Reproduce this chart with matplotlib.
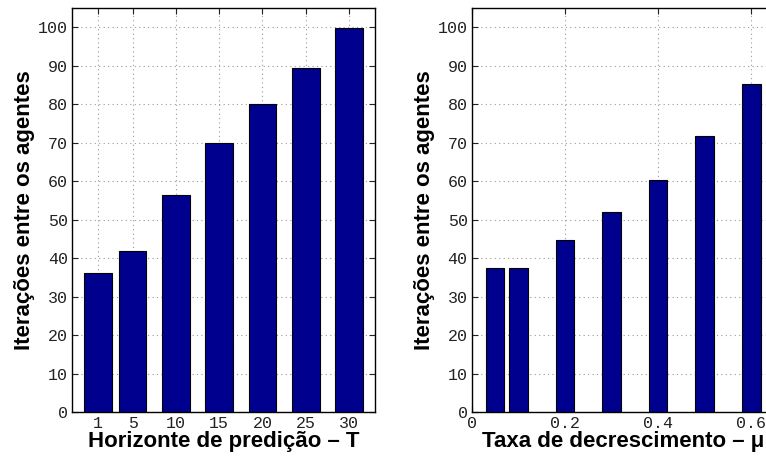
import matplotlib
matplotlib.use("Agg")
import matplotlib.pyplot as plt

# Prediction horizon experiment
horizon = [1, 5, 10, 15, 20, 25, 30]
iter_horizon = [36.1, 41.8, 56.5, 69.8, 80.0, 89.3, 99.9]

# Decay rate experiment
decay = [0.05, 0.1, 0.2, 0.3, 0.4, 0.5, 0.6]
iter_decay = [37.3, 37.3, 44.7, 52.0, 60.4, 71.7, 85.3]

yticks = list(range(0, 101, 10))
bar_color = "#00008F"
tick_font = {"family": "Liberation Mono", "size": 12}
label_font = {"family": "Liberation Sans", "weight": "bold", "size": 16}

fig = plt.figure(figsize=(7.66, 4.57), dpi=100)

W = 303 / 766
B = 1 - 412 / 457
H = (412 - 8) / 457
ax1 = fig.add_axes([72 / 766, B, W, H])
ax2 = fig.add_axes([471.7 / 766, B, W, H])


def style(ax):
    ax.set_ylim(0, 105)
    ax.set_yticks(yticks)
    ax.grid(True, linestyle=(0, (1, 3)), color="#9a9a9a", linewidth=0.8)
    ax.set_axisbelow(True)
    ax.tick_params(direction="in", top=True, right=True, length=4,
                   width=0.8, colors="#222222", pad=3)
    for lab in ax.get_xticklabels() + ax.get_yticklabels():
        lab.set_fontfamily(tick_font["family"])
        lab.set_fontsize(tick_font["size"])
    for s in ax.spines.values():
        s.set_linewidth(1.0)
    ax.set_ylabel("Iterações entre os agentes", labelpad=2, **label_font)


ax1.bar(horizon, iter_horizon, width=3.2, color=bar_color,
        edgecolor="black", linewidth=0.8)
ax1.set_xlim(-2, 33)
ax1.set_xticks(horizon)
ax1.set_xlabel("Horizonte de predição – T", labelpad=0, **label_font)
style(ax1)

ax2.bar(decay, iter_decay, width=0.04, color=bar_color,
        edgecolor="black", linewidth=0.8)
ax2.set_xlim(0, 0.65)
ax2.set_xticks([0, 0.2, 0.4, 0.6])
ax2.set_xticklabels(["0", "0.2", "0.4", "0.6"])
ax2.set_xlabel("Taxa de decrescimento – μ", labelpad=0, **label_font)
style(ax2)

fig.savefig("out.png", dpi=100)
